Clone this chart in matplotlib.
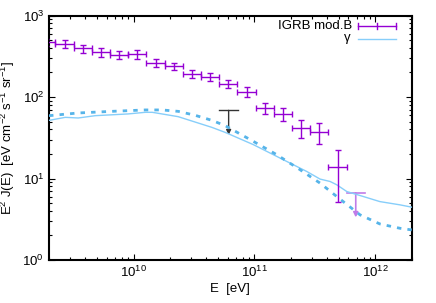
#!/usr/bin/env python3

import numpy as np
import matplotlib
matplotlib.use('Agg')
import matplotlib.pyplot as plt
from matplotlib.ticker import LogLocator, NullFormatter

plt.rcParams['font.family'] = ['Liberation Sans', 'DejaVu Sans']
plt.rcParams['mathtext.default'] = 'regular'

# IGRB (model B) energy bin edges [eV]
igrb_edges = [1.6e9, 2.263e9, 3.2e9, 4.525e9, 6.4e9, 9.051e9, 1.28e10,
              1.81e10, 2.56e10, 3.62e10, 5.12e10, 7.24e10, 1.024e11,
              1.448e11, 2.048e11, 2.896e11, 4.096e11, 5.793e11, 8.192e11]
# E^2 J(E) in the first 17 bins, last bin is an upper limit
igrb_flux = [471, 450, 394, 355, 330, 335, 262, 238, 194, 177, 146, 116,
             72.6, 62, 41.7, 37.5, 13.7]
igrb_err = [45, 45, 46, 43, 40, 39, 28, 25, 23, 21, 17, 15,
            11, 11, 10, 11, 8.5]
igrb_ul = 6.67

# gamma, solid curve
gam_E = [2.0e9, 2.73e9, 3.49e9, 4.82e9, 9.04e9, 1.25e10, 1.43e10, 2.34e10,
         4.45e10, 5.73e10, 9.82e10, 1.85e11, 2.71e11, 3.49e11, 4.23e11,
         4.80e11, 5.81e11, 7.96e11, 1.09e12, 1.60e12, 2.0e12]
gam_F = [51.7, 56.3, 55.3, 59.0, 62.0, 64.9, 64.9, 57.4, 42.4, 36.8, 26.0,
         16.2, 12.2, 9.84, 9.19, 8.37, 6.92, 6.01, 5.21, 4.75, 4.45]

# gamma, dashed curve
gamd_E = [2.0e9, 3.49e9, 6.62e9, 1.25e10, 1.72e10, 2.34e10, 3.24e10,
          4.45e10, 5.73e10, 9.82e10, 1.53e11, 2.39e11, 3.49e11, 4.80e11,
          7.48e11, 1.09e12, 1.60e12, 2.0e12]
gamd_F = [59.0, 63.7, 66.7, 69.4, 69.4, 66.7, 59.6, 51.7, 44.5, 28.5, 19.6,
          12.8, 8.78, 6.01, 3.58, 2.77, 2.45, 2.34]

# black upper limit
ul_E = 6.12e10
ul_F = 68.6


def main():
    fig = plt.figure(figsize=(4.36, 3.03), dpi=100)
    ax = fig.add_axes([0.1124, 0.1419, 0.8319, 0.8069])
    ax.set_xscale('log')
    ax.set_yscale('log')
    ax.set_xlim(2e9, 2e12)
    ax.set_ylim(1, 1e3)

    purple = '#9400d3'
    edges = np.array(igrb_edges)
    centers = np.sqrt(edges[:-1] * edges[1:])
    xlo = centers - edges[:-1]
    xhi = edges[1:] - centers
    n = len(igrb_flux)
    ax.errorbar(centers[:n], igrb_flux, yerr=igrb_err,
                xerr=[xlo[:n], xhi[:n]], fmt='none', ecolor=purple,
                elinewidth=1.0, capsize=2, capthick=1.0, zorder=4)

    # purple upper limit (last bin)
    ul_col = '#c07ce8'
    ax.plot([edges[-2], edges[-1]], [igrb_ul, igrb_ul], color=ul_col, lw=1.2)
    ax.annotate('', xy=(centers[-1], igrb_ul / 2), xytext=(centers[-1], igrb_ul),
                arrowprops=dict(arrowstyle='-|>', color=ul_col, lw=1.2,
                                mutation_scale=7, shrinkA=0, shrinkB=0))

    # black upper limit
    ax.plot([ul_E / 10 ** 0.076, ul_E * 10 ** 0.076], [ul_F, ul_F],
            color='#333333', lw=1.0)
    ax.annotate('', xy=(ul_E, ul_F / 2), xytext=(ul_E, ul_F),
                arrowprops=dict(arrowstyle='-|>', color='#333333', lw=1.0,
                                mutation_scale=7, shrinkA=0, shrinkB=0))

    ax.plot(gam_E, gam_F, color='#87cefa', lw=1.0, zorder=3)
    ax.plot(gamd_E, gamd_F, color='#56b4e9', lw=2.0,
            linestyle=(0, (1.6, 2.2)), zorder=3)

    # gnuplot style key
    fs = 9.5
    ax.text(0.835, 0.958, 'IGRB mod.B', transform=ax.transAxes,
            ha='right', va='center', fontsize=fs)
    ax.plot([0.852, 0.957], [0.958, 0.958], color=purple, lw=1.0,
            transform=ax.transAxes)
    for xk in [0.852, 0.9045, 0.957]:
        ax.plot([xk, xk], [0.946, 0.970], color=purple, lw=1.0,
                transform=ax.transAxes)
    ax.text(0.835, 0.903, r'$\gamma$', transform=ax.transAxes,
            ha='right', va='center', fontsize=fs)
    ax.plot([0.852, 0.957], [0.903, 0.903], color='#87cefa', lw=1.0,
            transform=ax.transAxes)

    ax.set_xlabel('E  [eV]', fontsize=fs, labelpad=2)
    ax.set_ylabel(r'E$^2$ J(E)  [eV cm$^{-2}$ s$^{-1}$ sr$^{-1}$]',
                  fontsize=fs, labelpad=4)

    for axis in [ax.xaxis, ax.yaxis]:
        axis.set_major_locator(LogLocator(base=10, numticks=10))
        axis.set_minor_locator(LogLocator(base=10, subs=np.arange(2, 10),
                                          numticks=20))
        axis.set_minor_formatter(NullFormatter())
    ax.tick_params(which='both', direction='in', top=True, right=True,
                   labelsize=fs, width=0.8)
    ax.tick_params(which='major', length=4)
    ax.tick_params(which='minor', length=2)
    for sp in ax.spines.values():
        sp.set_linewidth(1.5)

    fig.savefig('out.png', dpi=100)


if __name__ == '__main__':
    main()
